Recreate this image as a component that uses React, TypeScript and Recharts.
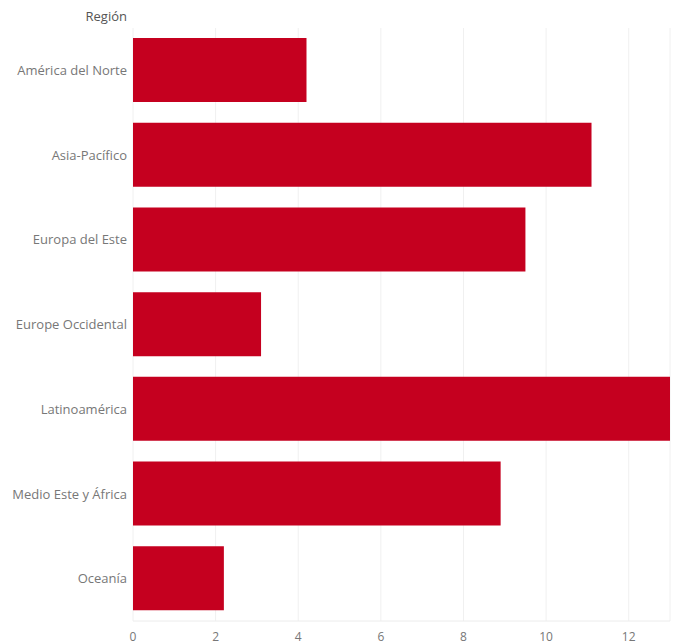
import React from "react";
import {
  BarChart,
  Bar,
  XAxis,
  YAxis,
  CartesianGrid,
  Label,
} from "recharts";

const regions = [
  "América del Norte",
  "Asia-Pacífico",
  "Europa del Este",
  "Europe Occidental",
  "Latinoamérica",
  "Medio Este y África",
  "Oceanía",
];
const values = [4.2, 11.1, 9.5, 3.1, 13.0, 8.9, 2.2];
const xTicks = [0, 2, 4, 6, 8, 10, 12];

const data = regions.map((region, i) => ({ region, value: values[i] }));

const FONT = "'Open Sans', Roboto, sans-serif";
const TEXT = "#777";

export default function App() {
  return (
    <div
      style={{
        position: "absolute",
        left: 0,
        top: 0,
        width: 689,
        height: 642,
        overflow: "hidden",
        background: "#fff",
        fontFamily: FONT,
      }}
    >
      <BarChart
        width={689}
        height={680}
        data={data}
        layout="vertical"
        margin={{ top: 28, right: 19, left: 0, bottom: 29 }}
      >
        <CartesianGrid horizontal={false} stroke="#f0f0f0" />
        <XAxis
          type="number"
          domain={[0, 13]}
          ticks={xTicks}
          tickLine={false}
          axisLine={{ stroke: "#ececec" }}
          tickSize={0}
          tickMargin={11}
          height={30}
          tick={{ fill: TEXT, fontSize: 12, fontFamily: FONT }}
        />
        <YAxis
          type="category"
          dataKey="region"
          width={133}
          tickLine={false}
          axisLine={false}
          tickSize={0}
          tickMargin={6}
          interval={0}
          tick={{ fill: TEXT, fontSize: 13, fontFamily: FONT }}
        >
          <Label
            content={() => (
              <text
                x={127}
                y={21}
                textAnchor="end"
                fill="#555"
                fontSize={13}
                fontFamily={FONT}
              >
                Región
              </text>
            )}
          />
        </YAxis>
        <Bar
          dataKey="value"
          fill="#c5001f"
          barSize={64}
          isAnimationActive={false}
        />
      </BarChart>
    </div>
  );
}
